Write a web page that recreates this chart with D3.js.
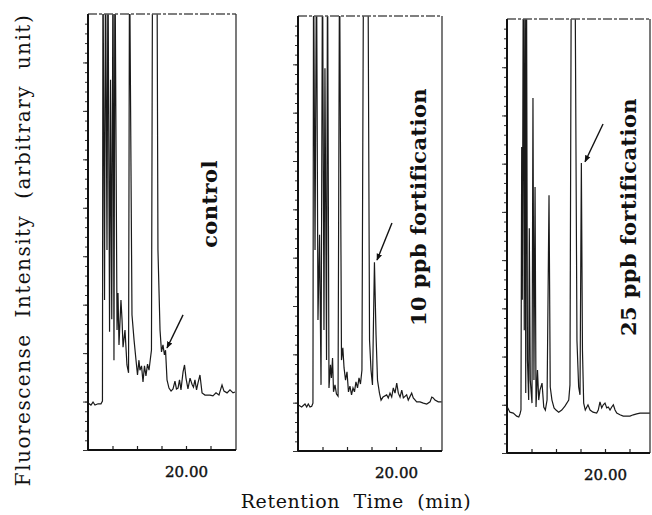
<!DOCTYPE html>
<html>
<head>
<meta charset="utf-8">
<script src="https://cdn.jsdelivr.net/npm/d3@7"></script>
<style>
  body { margin: 0; background: #fff; }
  text { font-family: "DejaVu Serif", serif; fill: #111; }
  .title { white-space: pre; }
</style>
</head>
<body>
<svg id="chart" width="652" height="515"></svg>
<script>

// retention time (min) and fluorescence (arbitrary, 100 = top of frame)
var controlTime = [12.00, 12.24, 12.41, 12.57, 12.82, 13.06, 13.18, 13.22, 13.35, 13.43, 13.55, 13.63, 13.76, 13.84, 13.94, 14.04, 14.12, 14.20,
    14.37, 14.45, 14.53, 14.69, 14.78, 14.86, 15.02, 15.18, 15.31, 15.39, 15.59, 15.76, 15.92, 16.04, 16.16, 16.24, 16.37, 16.49,
    16.61, 16.73, 16.86, 16.98, 17.10, 17.18, 17.27, 17.43, 17.63, 17.71, 17.88, 18.00, 18.12, 18.24, 18.33, 18.45, 18.61, 18.78,
    18.94, 19.10, 19.22, 19.35, 19.47, 19.59, 19.76, 19.88, 20.00, 20.16, 20.33, 20.49, 20.61, 20.73, 20.86, 20.98, 21.14, 21.31,
    21.55, 21.96, 22.20, 22.45, 22.69, 22.86, 22.94, 23.10, 23.35, 23.59, 23.84, 24.00];
var controlSignal = [10.8, 10.3, 11.0, 10.3, 10.6, 10.6, 11.2, 115, 34.4, 115, 45.9, 115, 27.1, 84.9, 30.0, 115, 20.6, 115,
    27.5, 36.0, 24.1, 34.4, 29.8, 23.6, 27.5, 19.5, 17.7, 115, 31.0, 25.2, 20.6, 17.2, 20.6, 18.3, 19.3, 15.6,
    19.3, 17.0, 19.7, 18.3, 21.1, 22.9, 115, 130, 115, 45.9, 27.5, 22.5, 24.1, 21.8, 22.9, 16.1, 14.2, 13.5,
    14.0, 15.8, 14.0, 14.2, 16.1, 13.8, 17.9, 19.5, 16.5, 14.0, 16.5, 15.1, 14.4, 16.1, 13.8, 15.4, 17.2, 13.1,
    12.6, 12.6, 12.4, 13.1, 12.6, 14.2, 14.9, 13.5, 13.1, 13.8, 13.1, 13.3];

var ppb10Time = [12.02, 12.30, 12.57, 12.71, 12.84, 12.98, 13.12, 13.22, 13.27, 13.39, 13.51, 13.63, 13.76, 13.88, 14.00, 14.12, 14.20,
    14.33, 14.41, 14.53, 14.65, 14.73, 14.82, 14.90, 15.02, 15.14, 15.27, 15.39, 15.55, 15.66, 15.76, 15.88, 16.00, 16.12, 16.24,
    16.37, 16.49, 16.61, 16.73, 16.86, 16.98, 17.10, 17.22, 17.35, 17.55, 17.71, 17.84, 17.96, 18.08, 18.24, 18.37, 18.49, 18.65,
    18.78, 18.94, 19.24, 19.37, 19.51, 19.65, 19.78, 19.92, 20.06, 20.19, 20.33, 20.47, 20.60, 20.87, 21.00, 21.28, 21.41, 21.69,
    21.96, 22.23, 22.51, 22.78, 22.92, 23.04, 23.18, 23.45, 23.73];
var ppb10Signal = [10.6, 10.1, 10.8, 10.1, 10.8, 10.1, 10.3, 11.0, 115, 46.2, 115, 30.1, 49.7, 15.2, 115, 27.8, 88.0,
    20.9, 115, 14.5, 19.8, 16.8, 21.4, 13.6, 15.2, 13.1, 12.6, 115, 20.9, 23.7, 19.1, 16.3, 18.2, 13.6, 14.9,
    12.9, 14.5, 13.6, 15.9, 14.5, 16.8, 15.4, 18.6, 115, 130, 115, 25.5, 18.6, 15.2, 43.4, 26.7, 16.3, 13.3,
    11.7, 12.4, 12.9, 12.2, 13.3, 12.4, 14.5, 13.3, 15.6, 13.3, 12.4, 14.0, 12.2, 12.9, 11.7, 13.3, 12.2, 11.3,
    11.3, 11.0, 10.8, 11.3, 12.4, 12.2, 11.7, 11.3, 11.3];

var ppb25Time = [12.02, 12.24, 12.51, 12.79, 12.96, 13.06, 13.14, 13.20, 13.25, 13.33, 13.41, 13.47, 13.53, 13.59, 13.67, 13.77, 13.82,
    13.90, 14.04, 14.12, 14.20, 14.29, 14.37, 14.49, 14.59, 14.69, 14.86, 15.00, 15.13, 15.27, 15.43, 15.53, 15.67, 15.84, 16.00,
    16.22, 16.47, 16.73, 17.04, 17.14, 17.25, 17.39, 17.55, 17.71, 17.85, 17.96, 18.07, 18.16, 18.26, 18.39, 18.61, 18.78, 19.02,
    19.32, 19.45, 19.59, 19.73, 19.86, 20.00, 20.14, 20.27, 20.41, 20.55, 20.68, 20.82, 20.96, 21.22, 21.49, 22.04, 22.31, 22.59,
    22.86, 23.13, 23.40, 23.67];
var ppb25Signal = [10.6, 9.4, 9.2, 8.5, 8.3, 9.0, 9.9, 70.5, 35.3, 115, 28.3, 115, 13.8, 115, 21.4, 12.2, 51.8,
    16.8, 11.5, 81.8, 16.8, 61.3, 10.6, 19.1, 12.2, 14.5, 16.1, 10.6, 9.9, 12.2, 59.4, 15.2, 12.2, 10.4, 9.9,
    9.4, 9.9, 10.8, 12.2, 15.7, 115, 130, 115, 26.0, 15.2, 13.4, 66.8, 23.7, 11.5, 9.9, 11.1, 9.9, 9.4,
    9.2, 9.9, 11.8, 10.4, 11.1, 11.5, 10.4, 10.6, 9.9, 10.6, 11.1, 9.9, 9.2, 8.8, 8.5, 8.5, 8.8, 9.0,
    9.2, 9.2, 9.2, 9.2];

var sampleLabels = ["control", "10 ppb fortification", "25 ppb fortification"];
// arrows point at the fortified peak, [time, signal]
var arrowStart = [[19.76, 31.0], [19.67, 52.4], [19.84, 75.8]];
var arrowEnd = [[18.45, 23.4], [18.45, 43.9], [18.37, 67.1]];

var timeTicks = [14, 16, 18, 20, 22];
var labelledTime = 20;
var signalStep = 100 / 45;

var traces = [
    { time: controlTime, signal: controlSignal },
    { time: ppb10Time, signal: ppb10Signal },
    { time: ppb25Time, signal: ppb25Signal }
];

// frame boxes of the three chromatograms
var frames = [
    { left: 88, top: 14, bottom: 450, width: 148, labelX: 217, labelY: 204 },
    { left: 298, top: 16, bottom: 451, width: 144, labelX: 426, labelY: 207 },
    { left: 507, top: 19, bottom: 453, width: 143, labelX: 636, labelY: 217 }
];

var svg = d3.select("#chart");
svg.append("rect").attr("width", 652).attr("height", 515).attr("fill", "#fff");

var defs = svg.append("defs");
defs.append("marker")
    .attr("id", "head")
    .attr("viewBox", "0 0 10 10")
    .attr("refX", 9).attr("refY", 5)
    .attr("markerWidth", 5).attr("markerHeight", 5)
    .attr("orient", "auto")
    .append("path").attr("d", "M0,1 L10,5 L0,9 z").attr("fill", "#111");

frames.forEach(function (f, i) {

    var x = d3.scaleLinear().domain([12, 24]).range([f.left, f.left + 12 * 12.25]);
    var y = d3.scaleLinear().domain([0, 100]).range([f.bottom, f.top]);

    defs.append("clipPath").attr("id", "clip" + i)
        .append("rect")
        .attr("x", f.left).attr("y", f.top)
        .attr("width", f.width).attr("height", f.bottom - f.top);

    var line = d3.line()
        .x(function (d) { return x(d[0]); })
        .y(function (d) { return y(d[1]); });

    var pts = d3.zip(traces[i].time, traces[i].signal);

    svg.append("path")
        .datum(pts)
        .attr("clip-path", "url(#clip" + i + ")")
        .attr("d", line)
        .attr("fill", "none")
        .attr("stroke", "#1a1a1a")
        .attr("stroke-width", 1.2)
        .attr("stroke-linejoin", "miter");

    // top and right of frame
    svg.append("line")
        .attr("x1", f.left).attr("x2", f.left + f.width)
        .attr("y1", f.top).attr("y2", f.top)
        .attr("stroke", "#555").attr("stroke-width", 1.3)
        .attr("stroke-dasharray", "9,2,3,2");
    svg.append("line")
        .attr("x1", f.left + f.width).attr("x2", f.left + f.width)
        .attr("y1", f.top).attr("y2", f.bottom)
        .attr("stroke", "#333").attr("stroke-width", 1.3);

    // intensity ticks, longer every fifth
    var minor = d3.range(0, 45).map(function (k) { return k * signalStep; });
    var major = minor.filter(function (d, k) { return k % 5 == 0; });

    svg.append("g")
        .attr("transform", "translate(" + f.left + ",0)")
        .call(d3.axisLeft(y).tickValues(minor).tickSize(3).tickSizeOuter(0).tickFormat(""))
        .call(function (g) { g.select(".domain").remove(); })
        .selectAll("line").attr("stroke", "#333");
    svg.append("g")
        .attr("transform", "translate(" + f.left + ",0)")
        .call(d3.axisLeft(y).tickValues(major).tickSize(5).tickSizeOuter(0).tickFormat(""))
        .call(function (g) { g.select(".domain").remove(); })
        .selectAll("line").attr("stroke", "#333");

    svg.append("line")
        .attr("x1", f.left).attr("x2", f.left)
        .attr("y1", f.top).attr("y2", f.bottom)
        .attr("stroke", "#111").attr("stroke-width", 2);

    var xAxis = svg.append("g")
        .attr("transform", "translate(0," + f.bottom + ")")
        .call(d3.axisBottom(x).tickValues(timeTicks).tickSize(-4).tickPadding(16)
            .tickFormat(function (d) { return d == labelledTime ? d3.format(".2f")(d) : ""; }));
    xAxis.select(".domain").remove();
    xAxis.selectAll("line").attr("stroke", "#222").attr("stroke-width", 1.2);
    xAxis.selectAll("text")
        .style("font-family", "'DejaVu Serif', serif")
        .style("font-size", "15px")
        .attr("fill", "#111")
        .attr("stroke", "#111")
        .attr("stroke-width", 0.4);

    svg.append("line")
        .attr("x1", f.left).attr("x2", f.left + f.width)
        .attr("y1", f.bottom).attr("y2", f.bottom)
        .attr("stroke", "#111").attr("stroke-width", 2);

    // arrow
    svg.append("line")
        .attr("x1", x(arrowStart[i][0])).attr("y1", y(arrowStart[i][1]))
        .attr("x2", x(arrowEnd[i][0])).attr("y2", y(arrowEnd[i][1]))
        .attr("stroke", "#111").attr("stroke-width", 1.4)
        .attr("marker-end", "url(#head)");

    svg.append("text")
        .attr("transform", "translate(" + f.labelX + "," + f.labelY + ") rotate(-90)")
        .attr("text-anchor", "middle")
        .style("font-weight", "bold")
        .style("font-size", "21px")
        .style("letter-spacing", "0.4px")
        .text(sampleLabels[i]);
});

svg.append("text")
    .attr("class", "title")
    .attr("transform", "translate(30,250) rotate(-90)")
    .attr("text-anchor", "middle")
    .style("font-size", "20px")
    .style("letter-spacing", "1.5px")
    .text("Fluorescense  Intensity  (arbitrary  unit)");

svg.append("text")
    .attr("class", "title")
    .attr("x", 356).attr("y", 508)
    .attr("text-anchor", "middle")
    .style("font-size", "19px")
    .style("letter-spacing", "0.6px")
    .text("Retention  Time  (min)");

</script>
</body>
</html>
